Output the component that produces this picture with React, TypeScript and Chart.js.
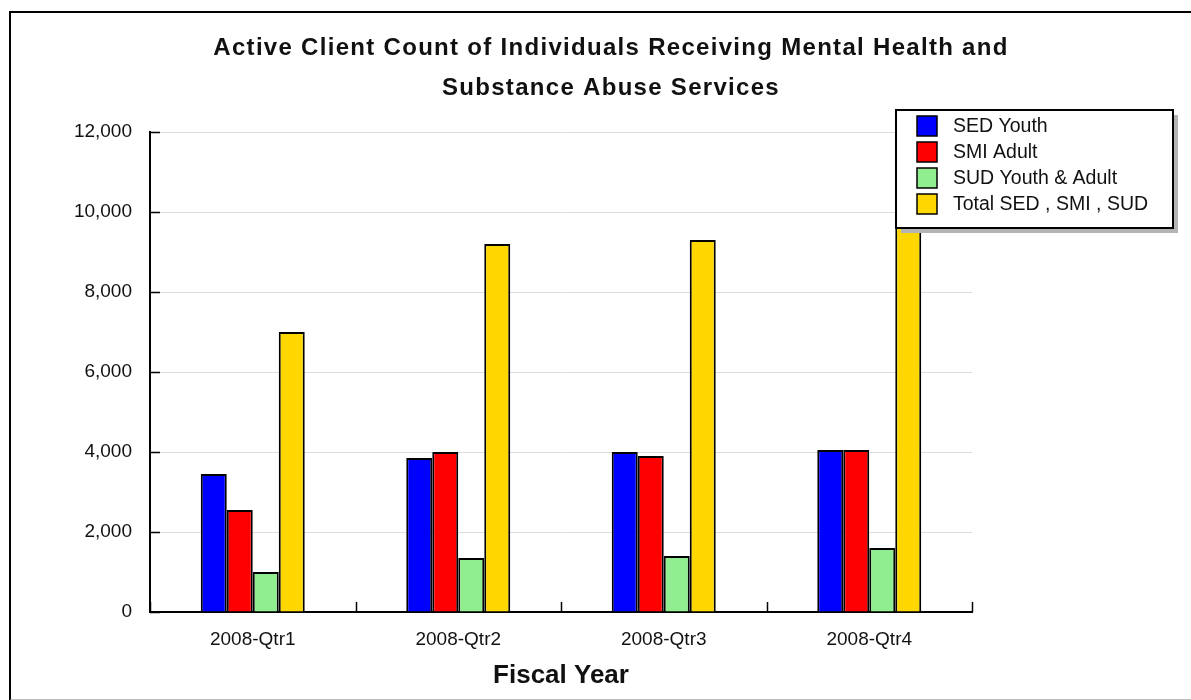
import React, { useEffect, useRef } from "react";
import { Chart, registerables } from "chart.js";

Chart.register(...registerables);

const categories = ["2008-Qtr1", "2008-Qtr2", "2008-Qtr3", "2008-Qtr4"];
const sedYouth = [3450, 3850, 4000, 4050];
const smiAdult = [2550, 4000, 3900, 4050];
const sudYouthAdult = [1000, 1350, 1400, 1600];
const totalAll = [7000, 9200, 9300, 9700];
const seriesLabels = ["SED Youth", "SMI Adult", "SUD Youth & Adult", "Total SED , SMI , SUD"];
const seriesColors = ["#0000ff", "#ff0000", "#90ee90", "#ffd700"];
const titleLines = [
  "Active Client Count of Individuals Receiving Mental Health and",
  "Substance Abuse Services",
];
const xTitle = "Fiscal Year";
const yMax = 12000;
const yStep = 2000;

const FONT = "'Liberation Sans', Arial, sans-serif";

const decorPlugin = {
  id: "decor",
  afterDraw(chart: any) {
    const ctx = chart.ctx;
    const { x, y } = chart.scales;
    const area = chart.chartArea;
    ctx.save();
    // inner ticks
    ctx.strokeStyle = "#000";
    ctx.lineWidth = 1.5;
    y.ticks.forEach((_t: any, i: number) => {
      const py = Math.round(y.getPixelForTick(i)) + 0.5;
      ctx.beginPath();
      ctx.moveTo(area.left, py);
      ctx.lineTo(area.left + 10, py);
      ctx.stroke();
    });
    const step = x.getPixelForValue(1) - x.getPixelForValue(0);
    for (let i = 0; i <= categories.length; i++) {
      const px =
        i < categories.length ? x.getPixelForValue(i) - step / 2 : x.getPixelForValue(i - 1) + step / 2;
      const rx = Math.round(px) + 0.5;
      ctx.beginPath();
      ctx.moveTo(rx, area.bottom);
      ctx.lineTo(rx, area.bottom - 10);
      ctx.stroke();
    }
    // title
    ctx.fillStyle = "#111";
    ctx.font = `bold 24px ${FONT}`;
    ctx.textAlign = "center";
    ctx.textBaseline = "middle";
    (ctx as any).letterSpacing = "1.3px";
    ctx.fillText(titleLines[0], 611, 48);
    ctx.fillText(titleLines[1], 611, 88);
    (ctx as any).letterSpacing = "0px";
    // legend
    const lx = 896, ly = 110, lw = 277, lh = 118;
    ctx.fillStyle = "#b4b4b4";
    ctx.fillRect(lx + 5, ly + 5, lw, lh);
    ctx.fillStyle = "#fff";
    ctx.fillRect(lx, ly, lw, lh);
    ctx.strokeStyle = "#000";
    ctx.lineWidth = 2;
    ctx.strokeRect(lx, ly, lw, lh);
    ctx.font = `19.5px ${FONT}`;
    ctx.textAlign = "left";
    chart.data.datasets.forEach((ds: any, i: number) => {
      const sy = 116 + i * 26;
      ctx.fillStyle = ds.backgroundColor;
      ctx.fillRect(917, sy, 20, 20);
      ctx.lineWidth = 1.5;
      ctx.strokeRect(917, sy, 20, 20);
      ctx.fillStyle = "#111";
      ctx.fillText(ds.label, 953, sy + 11);
    });
    ctx.restore();
  },
};

export default function App() {
  const ref = useRef<HTMLCanvasElement | null>(null);
  useEffect(() => {
    if (!ref.current) return;
    const series = [sedYouth, smiAdult, sudYouthAdult, totalAll];
    const chart = new Chart(ref.current, {
      type: "bar",
      data: {
        labels: categories,
        datasets: series.map((d, i) => ({
          label: seriesLabels[i],
          data: d,
          backgroundColor: seriesColors[i],
          borderColor: "#000",
          borderWidth: 2,
          categoryPercentage: 0.506,
          barPercentage: 1,
        })),
      },
      options: {
        responsive: false,
        animation: false,
        events: [],
        layout: { padding: { top: 132, right: 219, left: 0, bottom: 0 } },
        plugins: {
          legend: { display: false },
          title: { display: false },
          tooltip: { enabled: false },
        },
        scales: {
          x: {
            grid: { display: false, drawTicks: false },
            border: { color: "#000", width: 2 },
            ticks: { color: "#111", font: { family: FONT, size: 19 }, padding: 16 },
            title: {
              display: true,
              text: xTitle,
              color: "#111",
              font: { family: FONT, size: 26, weight: "bold" },
              padding: { top: 10, bottom: 9 },
            },
            afterFit: (s: any) => {
              s.height = 88;
            },
          },
          y: {
            min: 0,
            max: yMax,
            grid: { color: "#dddddd", lineWidth: 1, drawTicks: false },
            border: { color: "#000", width: 2 },
            ticks: {
              stepSize: yStep,
              color: "#111",
              font: { family: FONT, size: 19 },
              padding: 18,
              callback: (v: any) => Number(v).toLocaleString("en-US"),
            },
            afterFit: (s: any) => {
              s.width = 150;
            },
          },
        },
      },
      plugins: [decorPlugin],
    });
    return () => chart.destroy();
  }, []);
  return (
    <div style={{ position: "fixed", left: 0, top: 0, width: 1191, height: 700, background: "#fff" }}>
      <div
        style={{
          position: "absolute",
          left: 9,
          top: 11,
          width: 1200,
          height: 686,
          borderLeft: "2px solid #000",
          borderTop: "2px solid #000",
          borderBottom: "2px solid #bbb",
        }}
      />
      <canvas ref={ref} width={1191} height={700} style={{ position: "absolute", left: 0, top: 0 }} />
    </div>
  );
}
